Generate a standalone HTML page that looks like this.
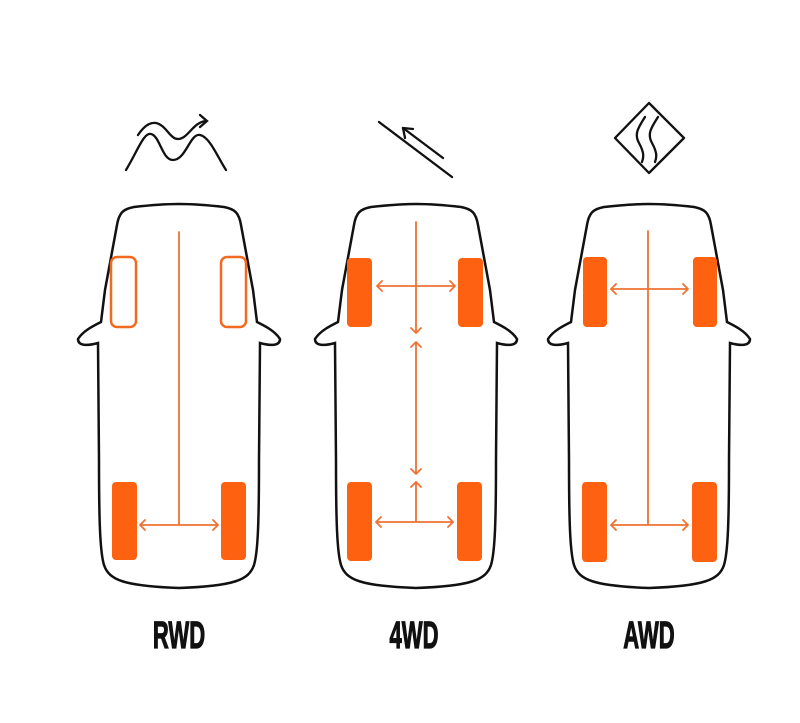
<!DOCTYPE html>
<html><head><meta charset="utf-8"><style>
html,body{margin:0;padding:0;background:#fff;}
svg{display:block}
text{font-family:"Liberation Sans",sans-serif;font-weight:bold;font-size:38px;fill:#111;stroke:#111;stroke-width:1.2}
</style></head><body>
<svg width="800" height="723" viewBox="0 0 800 723" xmlns="http://www.w3.org/2000/svg">
<defs>
<path id="car" d="M -45,207 C -10,203 10,203 45,207 C 56,209 60,213 62,225 L 74,290 L 78,322 C 86,326 96,331 101,339 C 101,346 92,346 81,343 L 80,460 C 80,520 79,552 75,565 C 70,580 55,586 0,588 C -55,586 -70,580 -75,565 C -79,552 -80,520 -80,460 L -81,343 C -92,346 -101,346 -101,339 C -96,331 -86,326 -78,322 L -74,290 L -62,225 C -60,213 -56,209 -45,207 Z" fill="none" stroke="#111" stroke-width="2.5"/>
</defs>
<g fill="none" stroke="#111" stroke-width="2.3" stroke-linecap="round">
<path d="M126,170 C138,150 144,132 151,134 C160,136 162,160 173,160 C186,160 190,133 200,135 C210,137 218,158 226,170"/>
<path d="M138,135 C144,126 150,122 156,123 C166,125 170,139 178,139 C188,139 193,122 206,121"/>
<path d="M200,115 L207,121 L200,127"/>
<path d="M379,122 L452,177"/>
<path d="M403,128 L443,158"/>
<path d="M403,128 L413,129 M403,128 L405,138"/>
<path d="M649,103 L684,138 L649,173 L615,138 Z" stroke-linejoin="round"/>
<path d="M645,117 C638,128 634,134 639,143 C644,152 644,157 642,162"/>
<path d="M658,117 C651,128 647,134 652,143 C657,152 657,157 655,162"/>
</g>
<use href="#car" transform="translate(179,0)"/>
<use href="#car" transform="translate(416,0)"/>
<use href="#car" transform="translate(649,0)"/>
<g fill="none" stroke="#f26a1f" stroke-width="2.5">
<rect x="111" y="257" width="25" height="70" rx="6"/>
<rect x="221" y="257" width="25" height="70" rx="6"/>
</g>
<g fill="#fe6210">
<rect x="112" y="482" width="25" height="78" rx="4"/>
<rect x="221" y="482" width="25" height="78" rx="4"/>
<rect x="347" y="258" width="25" height="69" rx="4"/>
<rect x="458" y="258" width="25" height="69" rx="4"/>
<rect x="347" y="482" width="25" height="79" rx="4"/>
<rect x="457" y="482" width="25" height="79" rx="4"/>
<rect x="583" y="257" width="24" height="70" rx="4"/>
<rect x="693" y="257" width="24" height="70" rx="4"/>
<rect x="582" y="482" width="25" height="80" rx="4"/>
<rect x="692" y="482" width="25" height="80" rx="4"/>
</g>
<g fill="none" stroke="#ef7233" stroke-width="1.8" stroke-linecap="round" stroke-linejoin="round">
<path d="M179,232 L179,525 M140,525 L218,525 M145,520 L140,525 L145,530 M213,520 L218,525 L213,530"/>
<path d="M416,222 L416,333 M411,328 L416,333 L421,328"/>
<path d="M377,286 L455,286 M382,281 L377,286 L382,291 M450,281 L455,286 L450,291"/>
<path d="M416,342 L416,474 M411,347 L416,342 L421,347 M411,469 L416,474 L421,469"/>
<path d="M416,482 L416,522 M411,487 L416,482 L421,487"/>
<path d="M376,522 L453,522 M381,517 L376,522 L381,527 M448,517 L453,522 L448,527"/>
<path d="M648,231 L648,525"/>
<path d="M611,289 L688,289 M616,284 L611,289 L616,294 M683,284 L688,289 L683,294"/>
<path d="M611,525 L688,525 M616,520 L611,525 L616,530 M683,520 L688,525 L683,530"/>
</g>
<text transform="translate(179,648) scale(0.58,1)" text-anchor="middle">RWD</text>
<text transform="translate(414,648) scale(0.58,1)" text-anchor="middle">4WD</text>
<text transform="translate(649,648) scale(0.58,1)" text-anchor="middle">AWD</text>
</svg>
</body></html>
